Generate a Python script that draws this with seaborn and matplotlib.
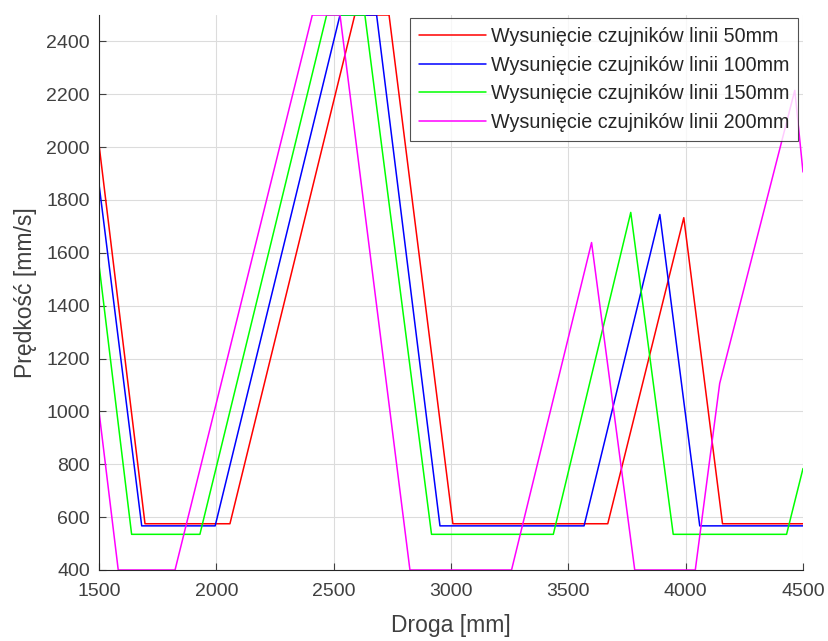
import numpy as np
import pandas as pd
import matplotlib
matplotlib.use("Agg")
import matplotlib.pyplot as plt
import seaborn as sns

# Data
labels = [
    "Wysunięcie czujników linii 50mm",
    "Wysunięcie czujników linii 100mm",
    "Wysunięcie czujników linii 150mm",
    "Wysunięcie czujników linii 200mm",
]
x_50 = [1500, 1696, 2058, 2590, 2736, 3008, 3668, 3992, 4157, 4500]
y_50 = [2010, 575, 575, 2500, 2500, 575, 575, 1733, 575, 575]
x_100 = [1500, 1682, 1995, 2527, 2683, 2953, 3567, 3890, 4060, 4500]
y_100 = [1860, 567, 567, 2500, 2500, 567, 567, 1745, 567, 567]
x_150 = [1500, 1639, 1930, 2470, 2633, 2917, 3436, 3766, 3947, 4430, 4500]
y_150 = [1555, 535, 535, 2500, 2500, 535, 535, 1753, 535, 535, 784]
x_200 = [1500, 1582, 1824, 2409, 2527, 2825, 3258, 3599, 3783, 4041, 4145, 4465, 4500]
y_200 = [1000, 400, 400, 2500, 2500, 400, 400, 1639, 400, 400, 1106, 2215, 1906]
colors = ["#ff0000", "#0000ff", "#00ff00", "#ff00ff"]
x_ticks = [1500, 2000, 2500, 3000, 3500, 4000, 4500]
y_ticks = [400, 600, 800, 1000, 1200, 1400, 1600, 1800, 2000, 2200, 2400]

frames = []
for lab, xs, ys in zip(labels, [x_50, x_100, x_150, x_200], [y_50, y_100, y_150, y_200]):
    frames.append(pd.DataFrame({"Droga": xs, "Predkosc": ys, "seria": lab}))
df = pd.concat(frames, ignore_index=True)

sns.set_theme(style="ticks")
plt.rcParams["font.family"] = ["Liberation Sans", "DejaVu Sans"]
plt.rcParams["xtick.direction"] = "in"
plt.rcParams["ytick.direction"] = "in"

fig = plt.figure(figsize=(8.29, 6.41), dpi=100)
ax = fig.add_axes([99 / 829, 1 - 570 / 641, (803 - 99) / 829, (570 - 15) / 641])

sns.lineplot(data=df, x="Droga", y="Predkosc", hue="seria", units="seria",
             estimator=None, sort=False, palette=colors, hue_order=labels,
             linewidth=1.1, ax=ax)

ax.set_xlim(1500, 4500)
ax.set_ylim(400, 2500)
ax.set_xticks(x_ticks)
ax.set_yticks(y_ticks)
ax.tick_params(axis="both", labelsize=14, colors="#404040", length=5, width=0.8)
ax.tick_params(axis="x", pad=9.5)
ax.tick_params(axis="y", pad=6.5)
ax.grid(True, color="#dcdcdc", linewidth=0.8)
ax.set_axisbelow(True)
for s in ["top", "right"]:
    ax.spines[s].set_visible(False)
for s in ["left", "bottom"]:
    ax.spines[s].set_color("#262626")
    ax.spines[s].set_linewidth(0.8)

ax.set_xlabel("Droga [mm]", fontsize=16.5, color="#404040", labelpad=10)
ax.set_ylabel("Prędkość [mm/s]", fontsize=16.5, color="#404040", labelpad=7)

leg = ax.legend(loc="upper right", bbox_to_anchor=(0.993, 0.995), fontsize=14.2,
                frameon=True, fancybox=False, edgecolor="#262626",
                handlelength=3.4, handletextpad=0.25, borderpad=0.45,
                labelspacing=0.5, borderaxespad=0)
leg.get_frame().set_linewidth(0.8)
for t in leg.get_texts():
    t.set_color("#262626")

fig.savefig("out.png", dpi=100)
